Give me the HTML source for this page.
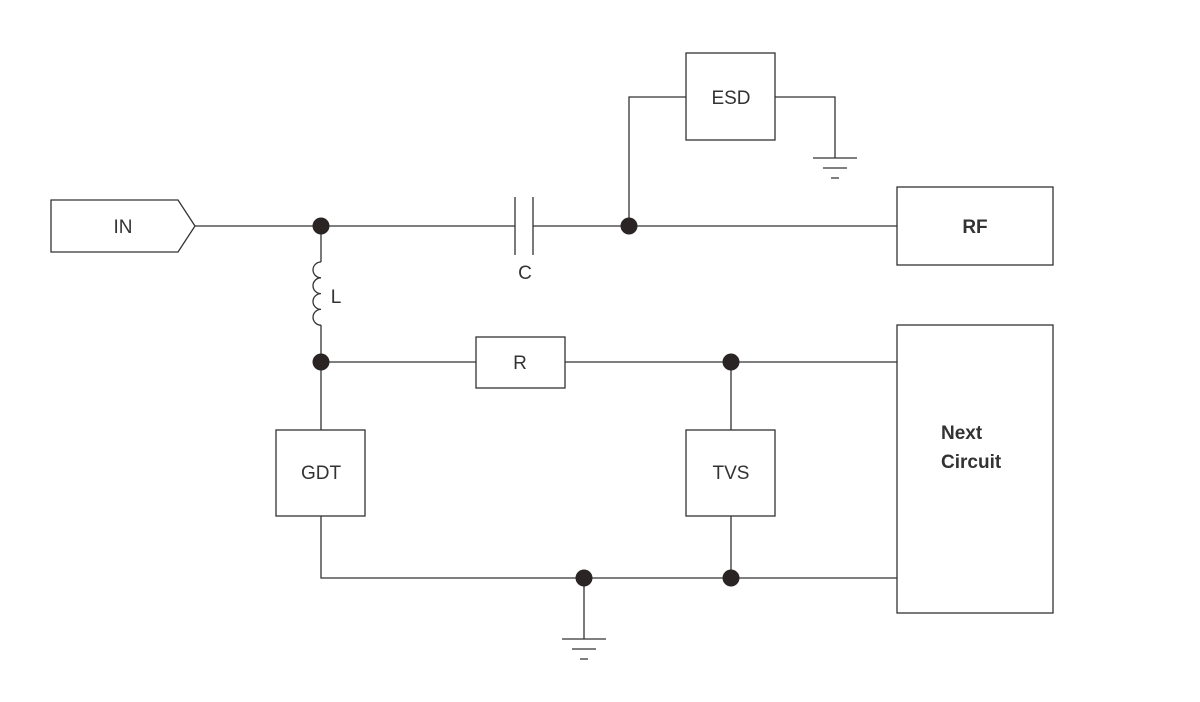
<!DOCTYPE html>
<html><head><style>html,body{margin:0;padding:0;background:#fff}svg{display:block}</style></head>
<body>
<svg width="1200" height="702" viewBox="0 0 1200 702" xmlns="http://www.w3.org/2000/svg" font-family="Liberation Sans, sans-serif">
<g stroke="#333" stroke-width="1.3" fill="none">
<path d="M51 200 H178 L195 226 L178 252 H51 Z"/>
<path d="M195 226 H515 M533 226 H897"/>
<path d="M515 197 V255 M533 197 V255"/>
<path d="M321 226 V262 M321 325 V430"/>
<path d="M321 262 a8 7.9 0 0 0 0 15.8 a8 7.9 0 0 0 0 15.8 a8 7.9 0 0 0 0 15.8 a8 7.9 0 0 0 0 15.8"/>
<path d="M321 362 H476 M565 362 H897"/>
<rect x="476" y="337" width="89" height="51"/>
<rect x="276" y="430" width="89" height="86"/>
<rect x="686" y="430" width="89" height="86"/>
<path d="M731 362 V430 M731 516 V578"/>
<path d="M321 516 V578 H897"/>
<path d="M584 578 V639 M562 639 H606 M572 649 H596 M580 659 H588"/>
<path d="M629 226 V97 H686 M775 97 H835 V158 M813 158 H857 M823 168 H847 M831 178 H839"/>
<rect x="686" y="53" width="89" height="87"/>
<rect x="897" y="187" width="156" height="78"/>
<rect x="897" y="325" width="156" height="288"/>
</g>
<g fill="#2a2424">
<circle cx="321" cy="226" r="8.5"/><circle cx="629" cy="226" r="8.5"/>
<circle cx="321" cy="362" r="8.5"/><circle cx="731" cy="362" r="8.5"/>
<circle cx="584" cy="578" r="8.5"/><circle cx="731" cy="578" r="8.5"/>
</g>
<g fill="#333" font-size="19" text-anchor="middle">
<text x="123" y="233">IN</text>
<text x="525" y="279">C</text>
<text x="336" y="303">L</text>
<text x="520" y="369">R</text>
<text x="321" y="479">GDT</text>
<text x="731" y="479">TVS</text>
<text x="731" y="104">ESD</text>
<text x="975" y="233" font-weight="bold">RF</text>
<text x="941" y="439" font-weight="bold" text-anchor="start">Next</text>
<text x="941" y="468" font-weight="bold" text-anchor="start">Circuit</text>
</g>
</svg>
</body></html>
